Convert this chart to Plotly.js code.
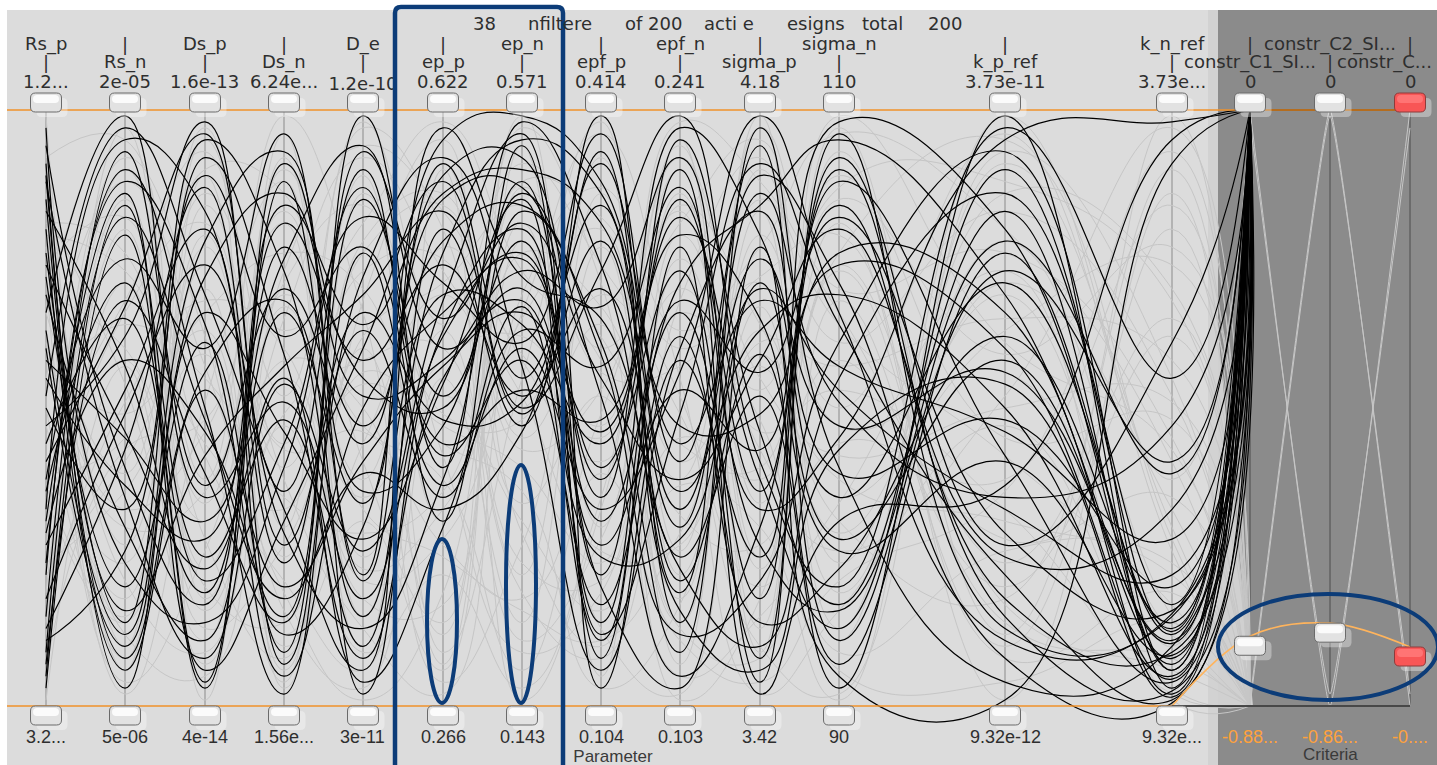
<!DOCTYPE html>
<html><head><meta charset="utf-8">
<script src="https://cdn.plot.ly/plotly-3.0.1.min.js"></script>
<style>html,body{margin:0;padding:0;background:#fff;overflow:hidden}#chart{width:1437px;height:765px}</style>
</head><body><div id="chart"></div>
<script>
// ================= DATA =================
const parameterNames = ['Rs_p','Rs_n','Ds_p','Ds_n','D_e','ep_p','ep_n','epf_p','epf_n','sigma_p','sigma_n','k_p_ref','k_n_ref'];
const criteriaNames = ['constr_C1_SI...','constr_C2_SI...','constr_C...'];
const topTickLabels = ['1.2...','2e-05','1.6e-13','6.24e...','1.2e-10','0.622','0.571','0.414','0.241','4.18','110','3.73e-11','3.73e...','0','0','0'];
const bottomTickLabels = ['3.2...','5e-06','4e-14','1.56e...','3e-11','0.266','0.143','0.104','0.103','3.42','90','9.32e-12','9.32e...','-0.88...','-0.86...','-0....'];
const titleWords = ['38','nfiltere','of 200','acti e','esigns','total','200'];
const groupLabels = ['Parameter','Criteria'];

// Active (unfiltered) designs: position on each axis, % of axis range (0 = bottom tick, 100 = top tick)
const Rs_p    = [72,15,88,41,5,63,29,94,52,11,80,36,58,22,91,47,3,69,33,85,18,55,76,9,44,66,27,97,38,13,83,60,24,50,7,74,31,89];
const Rs_n    = [20,93,35,67,84,12,58,40,97,26,6,71,45,88,16,62,79,30,95,8,49,37,14,82,65,99,53,24,75,43,57,10,90,33,68,46,86,3];
const Ds_p    = [61,37,8,96,25,78,46,17,69,89,53,4,31,64,42,98,21,11,83,56,74,28,92,48,3,35,80,14,60,87,19,72,50,95,39,23,6,66];
const Ds_n    = [9,70,54,27,48,93,15,81,33,62,20,88,75,5,57,29,44,91,12,68,36,84,59,18,77,51,7,40,96,24,66,86,2,73,14,55,31,46];
const D_e     = [85,44,26,63,10,36,99,58,6,77,41,22,94,50,69,13,82,55,30,2,90,64,8,39,47,18,72,87,21,66,34,52,76,15,93,4,60,28];
const ep_p    = [52,91,68,35,80,47,60,74,89,31,57,95,42,66,83,38,71,50,97,63,44,86,55,33,78,62,92,40,69,48,85,58,37,76,65,30,88,54];
const ep_n    = [78,55,96,63,47,88,70,52,92,83,66,99,58,75,49,86,61,94,72,80,53,90,68,46,84,76,57,98,64,51,87,73,60,95,81,67,50,85];
const epf_p   = [31,84,12,57,93,40,22,70,3,61,46,88,17,35,78,52,96,8,65,27,48,81,14,91,59,38,6,74,44,99,20,67,33,86,55,11,73,25];
const epf_n   = [66,21,49,87,14,73,95,30,58,9,82,36,62,97,25,5,44,77,19,53,90,33,68,41,12,85,60,23,79,47,3,92,56,16,38,71,99,28];
const sigma_p = [18,59,91,33,71,4,46,86,25,97,38,63,8,79,52,30,68,14,89,43,2,75,56,94,21,36,83,10,65,49,77,27,99,6,58,84,41,70];
const sigma_n = [88,7,64,45,28,96,17,51,76,40,13,69,92,35,3,84,57,23,71,98,31,47,82,11,61,90,39,55,5,74,26,16,66,43,80,95,20,53];
const k_p_ref = [42,76,22,95,58,13,83,35,66,4,90,50,27,71,99,18,46,62,8,80,37,56,29,73,93,15,48,86,1,60,41,78,11,54,25,69,97,33];
const k_n_ref = [4,12,1,98,8,15,6,47,2,10,17,5,61,13,3,9,28,14,0.5,7,95,11,16,41,6,2.5,20,12.5,91,4.5,8.5,39,15.5,1.5,33,10.5,55,22];
const constr_C1 = [100,100,100,100,100,100,100,100,100,100,100,100,100,100,100,100,100,100,100,100,100,100,100,100,100,100,100,100,100,100,100,100,100,100,100,100,100,100];
const constr_C2 = [100,100,100,100,100,100,100,100,100,100,100,100,100,100,100,100,100,100,100,100,100,100,100,100,100,100,100,100,100,100,100,100,100,100,100,100,100,100];
const constr_C3 = [100,100,100,100,100,100,100,100,100,100,100,100,100,100,100,100,100,100,100,100,100,100,100,100,100,100,100,100,100,100,100,100,100,100,100,100,100,100];

// Filtered-out (grey) designs, same units
const g_Rs_p    = [8,47,83,26,61,95,14,39,72,53,3,88,31,66,19,77,44,97,58,11,35,81,24,69,50,92,6,42,74,17,63,29,86,55,1,37,79,22,67,99];
const g_Rs_n    = [71,18,54,92,33,6,80,45,12,64,97,27,58,39,85,2,68,21,49,90,14,76,36,60,8,95,43,24,82,51,30,66,4,88,57,15,73,41,99,10];
const g_Ds_p    = [34,89,11,62,46,79,23,97,5,55,38,70,16,86,28,51,93,9,66,42,74,1,59,31,84,20,48,95,13,68,36,81,26,57,7,90,44,63,18,77];
const g_Ds_n    = [92,25,67,4,81,40,58,16,73,35,99,12,47,63,8,88,30,55,76,21,44,96,6,69,38,14,83,52,27,60,90,3,71,19,49,86,33,10,65,43];
const g_D_e     = [15,60,38,86,21,73,50,3,94,29,66,44,9,81,56,18,97,35,70,6,89,25,62,47,13,78,33,98,54,10,41,68,84,1,58,23,76,31,92,46];
const g_ep_p    = [63,7,91,42,28,75,12,55,83,36,4,69,22,98,47,17,80,58,31,90,9,52,71,38,2,86,25,64,44,77,14,95,49,19,60,33,84,6,73,27];
const g_ep_n    = [22,78,45,9,66,34,94,14,58,81,27,50,3,73,40,88,19,62,97,11,55,31,84,6,69,43,16,91,36,59,76,24,48,99,1,65,29,87,52,18];
const g_epf_p   = [86,30,64,19,96,52,5,77,41,13,69,92,35,58,24,82,8,47,71,28,98,16,60,39,87,53,11,74,3,45,67,21,93,56,33,80,10,62,26,49];
const g_epf_n   = [41,95,7,73,55,18,84,32,66,2,49,26,90,14,79,60,37,98,5,70,22,45,81,11,63,94,29,52,17,86,38,75,1,57,92,13,68,44,27,83];
const g_sigma_p = [57,13,79,36,2,90,64,27,48,97,20,83,9,61,43,72,30,88,15,53,67,38,95,4,77,25,59,10,85,34,99,46,18,71,55,8,92,40,63,23];
const g_sigma_n = [29,74,50,97,16,61,38,85,6,70,44,13,93,57,26,79,1,66,34,89,11,58,47,21,96,73,35,2,64,81,19,53,87,9,42,68,24,99,31,76];
const g_k_p_ref = [69,24,96,12,47,83,31,59,4,76,38,91,17,65,52,8,86,28,73,45,99,20,56,36,80,14,63,93,42,1,71,33,88,26,50,10,78,61,18,95];
const g_k_n_ref = [10,65,38,90,3,52,22,77,14,45,84,30,6,58,97,19,70,35,1,48,26,62,12,93,41,8,74,55,17,86,33,2,68,24,51,80,15,43,99,28];
const g_constr_C1 = [100,1,98,0,0,0,0,0,0,0,0,0,0,0,0,0,0,0,0,0,0,0,0,0,0,0,0,0,0,0,0,0,0,0,0,0,0,0,0,0];
const g_constr_C2 = [0,100,2,99,0,0,0,0,0,0,0,0,0,0,0,0,0,0,0,0,0,0,0,0,0,0,0,0,0,0,0,0,0,0,0,0,0,0,0,0];
const g_constr_C3 = [100,0,97,2,0,0,0,0,0,0,0,0,0,0,0,0,0,0,0,0,0,0,0,0,0,0,0,0,0,0,0,0,0,0,0,0,0,0,0,0];

// Filter handles: upper filter at top of every axis, lower filter on k_n_ref + criteria (% of range)
const upperFilter = [100,100,100,100,100,100,100,100,100,100,100,100,100,100,100,100];
const lowerFilterCriteria = [0, 11.7, 13.9, 9.9];   // k_n_ref bottom, C1, C2, C3

// ================= LAYOUT CONSTANTS =================
const W = 1437, H = 765;
const AX = [46,125,205,284,363,443,522,601,680,760,839,1005,1172,1250,1330,1410];
const Y_TOP = 110, Y_BOT = 706;
const PPU = (Y_BOT - Y_TOP) / 100;
const yLo = -(H - Y_BOT) / PPU, yHi = yLo + H / PPU;
const px = x => x / W, py = y => 1 - y / H;
const FONT = 'DejaVu Sans, Verdana, sans-serif';
const FONTC = '"Liberation Sans", Arial, sans-serif';
const TXT = '#2e2e2e';

// ================= TRACES =================
function designTraces(pcols, ccols, color, width) {
  const n = Math.min(...pcols.map(c => c.length), ...ccols.map(c => c.length));
  const out = [];
  for (let i = 0; i < n; i++) {
    out.push({type:'scatter', mode:'lines', x: AX.slice(0, 14),
      y: pcols.map(c => c[i]).concat([ccols[0][i]]),
      line:{shape:'spline', smoothing:1.3, color, width}, hoverinfo:'skip'});
    out.push({type:'scatter', mode:'lines', x: AX.slice(13, 16),
      y: ccols.map(c => c[i]),
      line:{shape:'spline', smoothing:0.25, color, width}, hoverinfo:'skip'});
  }
  return out;
}
const traces = [].concat(
  designTraces([g_Rs_p,g_Rs_n,g_Ds_p,g_Ds_n,g_D_e,g_ep_p,g_ep_n,g_epf_p,g_epf_n,g_sigma_p,g_sigma_n,g_k_p_ref,g_k_n_ref],
               [g_constr_C1,g_constr_C2,g_constr_C3], '#c6c6c6', 1),
  designTraces([Rs_p,Rs_n,Ds_p,Ds_n,D_e,ep_p,ep_n,epf_p,epf_n,sigma_p,sigma_n,k_p_ref,k_n_ref],
               [constr_C1,constr_C2,constr_C3], '#000000', 1.2)
);
traces.push({type:'scatter', mode:'lines', x: AX.slice(12, 16), y: lowerFilterCriteria,
  line:{shape:'spline', smoothing:1, color:'#ffb45c', width:1.6}, hoverinfo:'skip'});

// ================= SHAPES =================
const shapes = [];
const rectP = (x0,y0,x1,y1,fill,layer) => ({type:'rect', xref:'paper', yref:'paper',
  x0:px(x0), x1:px(x1), y0:py(y1), y1:py(y0), fillcolor:fill, line:{width:0}, layer});
shapes.push(rectP(7,10,1218,765,'#dcdcdc','below'));
shapes.push(rectP(1218,10,W,765,'#8b8b8b','below'));
shapes.push(rectP(1208,10,1218,765,'#d2d2d2','below'));
shapes.push({type:'path', xref:'paper', yref:'paper', layer:'below', fillcolor:'#d0d0d0', line:{width:0},
  path:`M${px(1218)},${py(330)} L${px(1253)},${py(706)} L${px(1218)},${py(706)} Z`});
AX.forEach((x, k) => shapes.push({type:'line', xref:'paper', yref:'paper', layer:'below',
  x0:px(x), x1:px(x), y0:py(Y_TOP), y1:py(Y_BOT), line:{color: k < 13 ? '#8a8a8a' : '#4c4c4c', width:1}}));

const lineP = (x0,y0,x1,y1,color,w) => ({type:'line', xref:'paper', yref:'paper', layer:'above',
  x0:px(x0), x1:px(x1), y0:py(y0), y1:py(y1), line:{color, width:w}});
shapes.push(lineP(7,Y_TOP,1413,Y_TOP,'#f0922a',1.5));
shapes.push(lineP(7,Y_BOT,AX[12],Y_BOT,'#f0922a',1.5));
shapes.push(lineP(AX[12],Y_BOT,AX[15],Y_BOT,'#1e1e1e',1.5));

function rr(x0, x1, y0, y1, r) {
  return `M${x0+r},${y0} L${x1-r},${y0} Q${x1},${y0} ${x1},${y0+r} L${x1},${y1-r} Q${x1},${y1} ${x1-r},${y1} ` +
         `L${x0+r},${y1} Q${x0},${y1} ${x0},${y1-r} L${x0},${y0+r} Q${x0},${y0} ${x0+r},${y0} Z`;
}
function handle(k, value, up, red) {
  const y0 = up ? -2 : -19, y1 = up ? 17 : 0;
  const base = {type:'path', xref:'x', yref:'y', xsizemode:'pixel', ysizemode:'pixel',
    xanchor: AX[k], yanchor: value, layer:'above'};
  shapes.push(Object.assign({}, base, {path: rr(-9.5, 21.5, y0-5, y1-5, 5), fillcolor:'rgba(255,255,255,0.35)', line:{width:0}}));
  shapes.push(Object.assign({}, base, {path: rr(-15.5, 15.5, y0, y1, 5),
    fillcolor: red ? '#f85656' : '#e2e2e2', line:{color: red ? '#8e3a3a' : '#6a6a6a', width:1}}));
  shapes.push(Object.assign({}, base, {path: rr(-13, 13, y0+9, y1-2, 4),
    fillcolor: red ? 'rgba(255,120,120,0.9)' : 'rgba(252,252,252,0.95)', line:{width:0}}));
}
AX.forEach((x, k) => handle(k, upperFilter[k], true, k === 15));
for (let k = 0; k < 13; k++) handle(k, 0, false, false);
for (let j = 1; j < 4; j++) handle(12 + j, lowerFilterCriteria[j], false, j === 3);

// labels that are partly covered by the blue highlight box (drawn as shape labels, before the box)
function shapeText(text, x, y, font) {
  shapes.push({type:'rect', xref:'paper', yref:'paper', layer:'above', x0:px(x-60), x1:px(x+60), y0:py(y+8), y1:py(y-8),
    line:{width:0}, fillcolor:'rgba(0,0,0,0)', label:{text, font, textposition:'middle center'}});
}
shapeText(topTickLabels[4], AX[4], 82, {family:FONT, size:18, color:TXT});
shapeText(groupLabels[0], 613, 754, {family:FONTC, size:17, color:'#3a3a3a'});

// blue highlight annotations
const BLUE = '#0c3c78';
shapes.push({type:'path', xref:'paper', yref:'paper', layer:'above', line:{color:BLUE, width:4.5}, fillcolor:'rgba(0,0,0,0)',
  path:`M${px(395)},${py(790)} L${px(395)},${py(13)} Q${px(395)},${py(7)} ${px(401)},${py(7)} L${px(557)},${py(7)} Q${px(563)},${py(7)} ${px(563)},${py(13)} L${px(563)},${py(790)}`});
const ell = (cx, cy, rx, ry) => ({type:'circle', xref:'paper', yref:'paper', layer:'above',
  x0:px(cx-rx), x1:px(cx+rx), y0:py(cy+ry), y1:py(cy-ry), line:{color:BLUE, width:4}, fillcolor:'rgba(0,0,0,0)'});
shapes.push(ell(442, 621, 15, 82));
shapes.push(ell(521, 584, 15, 119));
shapes.push(ell(1328, 647, 110, 53));

// ================= ANNOTATIONS =================
const ann = [];
const txt = (text, x, y, font, xanchor) => ann.push({text, x:px(x), y:py(y), xref:'paper', yref:'paper',
  showarrow:false, xanchor: xanchor || 'center', yanchor:'middle', font});
const fTop = {family:FONT, size:18, color:TXT};
const fBot = {family:FONTC, size:18, color:TXT};
const titleX = [484, 560, 653, 729, 816, 882, 945];
titleWords.forEach((w, i) => txt(w, titleX[i], 23, fTop));
const allNames = parameterNames.concat(criteriaNames);
allNames.forEach((name, k) => {
  const row = k % 2 === 0 ? 44 : 62, other = k % 2 === 0 ? 62 : 44;
  if (k === 15) txt(name, 1434, row, fTop, 'right'); else txt(name, AX[k], row, fTop);
  txt('|', AX[k], other, fTop);
  if (k !== 4) txt(topTickLabels[k], AX[k], 82, fTop);
  txt(bottomTickLabels[k], AX[k], 737, k >= 13 ? {family:FONTC, size:18, color:'#ffa23c'} : fBot);
});
txt(groupLabels[1], (AX[13] + AX[15]) / 2, 754, {family:FONTC, size:17, color:'#3a3a3a'});

const layout = {
  width:W, height:H, margin:{l:0, r:0, t:0, b:0, pad:0},
  paper_bgcolor:'#ffffff', plot_bgcolor:'rgba(0,0,0,0)', showlegend:false,
  xaxis:{range:[0, W], visible:false, fixedrange:true},
  yaxis:{range:[yLo, yHi], visible:false, fixedrange:true},
  shapes, annotations: ann, hovermode:false
};
Plotly.newPlot('chart', traces, layout, {staticPlot:true, displayModeBar:false});
</script></body></html>
